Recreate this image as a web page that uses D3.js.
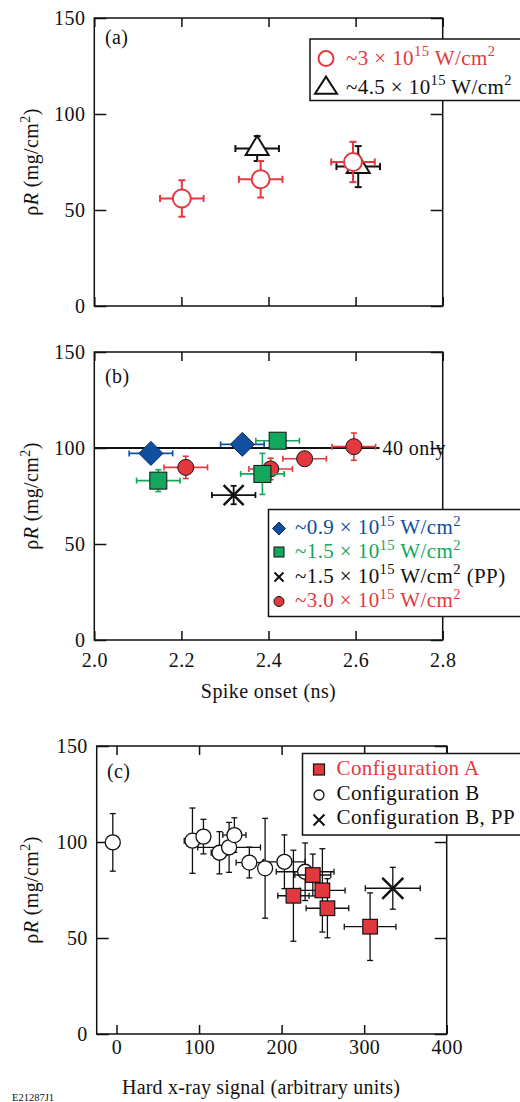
<!DOCTYPE html>
<html>
<head>
<meta charset="utf-8">
<script src="https://cdn.jsdelivr.net/npm/d3@7"></script>
<style>
  html, body { margin: 0; padding: 0; background: #fff; }
  svg { display: block; }
  svg text { font-family: "Liberation Serif", "Times New Roman", Times, serif; }
</style>
</head>
<body>
<svg id="chart" width="520" height="1102"></svg>
<script>
// ---------- Panel (a): areal density vs. spike onset ----------
const aLowOnset      = [2.201, 2.382, 2.594];
const aLowOnsetErr   = [0.05, 0.05, 0.05];
const aLowRhoR       = [56, 66, 75];
const aLowRhoRErr    = [9.5, 9.5, 10.5];

const aHighOnset     = [2.374, 2.606];
const aHighOnsetErr  = [0.05, 0.05];
const aHighRhoR      = [82, 72.6];
const aHighRhoRErr   = [6.5, 10.7];

// ---------- Panel (b): areal density vs. spike onset, four drive cases ----------
const b09Onset    = [2.130, 2.340];
const b09OnsetErr = [0.05, 0.05];
const b09RhoR     = [97.2, 101.9];
const b09RhoRErr  = [0, 0];

const b15Onset    = [2.147, 2.386, 2.421];
const b15OnsetErr = [0.05, 0.05, 0.05];
const b15RhoR     = [83.0, 86.5, 103.8];
const b15RhoRErr  = [5.7, 10.7, 0];

const b15ppOnset    = [2.320];
const b15ppOnsetErr = [0.05];
const b15ppRhoR     = [75.5];
const b15ppRhoRErr  = [4.8];

const b30Onset    = [2.210, 2.405, 2.483, 2.596];
const b30OnsetErr = [0.05, 0.05, 0.05, 0.05];
const b30RhoR     = [89.9, 89.1, 94.4, 100.7];
const b30RhoRErr  = [5.8, 5.6, 0, 7.1];

// reference level reached with 40 beams only
const refOnsetSpan = [2.0, 2.655];
const refRhoR      = 100;

// ---------- Panel (c): areal density vs. hard x-ray signal ----------
const cConfAHxr    = [237.8, 249.4, 255.5, 214.3, 307.2];
const cConfAHxrErr = [21.8, 27.5, 25.8, 19, 31.3];
const cConfARhoR   = [82.8, 74.8, 65.5, 72, 55.9];
const cConfARhoErr = [10.9, 21.7, 15.4, 23.7, 17.6];

const cConfBHxr    = [-4.5, 92, 105.3, 124.7, 136.4, 142.8, 160.9, 180, 203.4, 228.5];
const cConfBHxrErr = [0, 10, 0, 10, 38, 14, 16, 0, 25, 35];
const cConfBRhoR   = [99.8, 100.7, 102.8, 94.4, 97.2, 103.6, 89.3, 86.3, 89.7, 84.5];
const cConfBRhoErr = [15, 17, 9, 11, 13, 9, 8, 26, 14, 15];

const cConfBppHxr    = [334.7];
const cConfBppHxrErr = [33.3];
const cConfBppRhoR   = [75.9];
const cConfBppRhoErr = [10.9];

// ---------- axis ticks ----------
const rhoTicks   = [0, 50, 100, 150];
const onsetTicks = [2.0, 2.2, 2.4, 2.6, 2.8];
const hxrTicks   = [0, 100, 200, 300, 400];

const RED = "#e2393f", BLUE = "#0e4f9e", GREEN = "#13a65d", BLACK = "#111";
const FONT = "Liberation Serif, Times New Roman, serif";
const LS = 0.4; // slight tracking of the serif face

const svg = d3.select("#chart").attr("font-family", FONT);

// scales
const xOnsetA = d3.scaleLinear().domain([2.0, 2.8]).range([94.3, 442.7]);
const yA = d3.scaleLinear().domain([0, 150]).range([306, 18]);
const xOnsetB = d3.scaleLinear().domain([2.0, 2.8]).range([94.3, 442.7]);
const yB = d3.scaleLinear().domain([0, 150]).range([640, 352]);
const xHxr = d3.scaleLinear().domain([-24, 400]).range([96.7, 446.7]);
const yC = d3.scaleLinear().domain([0, 150]).range([1034, 746]);

function txt(x, y, s, size, color) {
  return svg.append("text").attr("x", x).attr("y", y).attr("font-size", size)
    .attr("font-family", FONT).attr("letter-spacing", LS).attr("fill", color || BLACK).text(s);
}

// frame with mirrored inward ticks on all four sides
function frame(sx, sy, xt, yt, xFmt, xPad) {
  const g = svg.append("g");
  const [x0, x1] = sx.range(), [y0, y1] = sy.range();
  g.append("g").attr("transform", `translate(0,${y0})`)
    .call(d3.axisBottom(sx).tickValues(xt).tickSizeInner(-9).tickSizeOuter(0).tickPadding(xPad)
      .tickFormat(xFmt || (() => "")));
  g.append("g").attr("transform", `translate(0,${y1})`)
    .call(d3.axisTop(sx).tickValues(xt).tickSizeInner(-9).tickSizeOuter(0).tickFormat(() => ""));
  g.append("g").attr("transform", `translate(${x0},0)`)
    .call(d3.axisLeft(sy).tickValues(yt).tickSizeInner(-12).tickSizeOuter(0).tickPadding(9).tickFormat(d => d));
  g.append("g").attr("transform", `translate(${x1},0)`)
    .call(d3.axisRight(sy).tickValues(yt).tickSizeInner(-12).tickSizeOuter(0).tickFormat(() => ""));
  g.selectAll(".domain").remove();
  g.selectAll("g").attr("font-family", FONT);
  g.selectAll(".tick line").attr("stroke", BLACK).attr("stroke-width", 1.5);
  g.selectAll(".tick text").attr("font-size", 20).attr("fill", BLACK)
    .attr("font-family", FONT).attr("letter-spacing", LS);
  g.append("rect").attr("x", x0).attr("y", y1).attr("width", x1 - x0).attr("height", y0 - y1)
    .attr("fill", "none").attr("stroke", BLACK).attr("stroke-width", 1.5);
  return g;
}

// text built from runs; a run with sup is raised and shrunk, the next run drops back
function runs(x, y, parts, size, color, attrs) {
  const t = svg.append("text").attr("x", x).attr("y", y).attr("font-size", size)
    .attr("font-family", FONT).attr("letter-spacing", LS).attr("fill", color || BLACK);
  if (attrs) Object.entries(attrs).forEach(([k, v]) => t.attr(k, v));
  const up = size * 0.4;
  let pending = 0;
  parts.forEach(p => {
    const sp = t.append("tspan");
    if (p.sup) {
      sp.attr("font-size", size * 0.7).attr("dy", pending - up).text(p.sup);
      pending = up;
    } else {
      if (pending) sp.attr("dy", pending);
      pending = 0;
      if (p.italic) sp.attr("font-style", "italic");
      sp.text(p.t);
    }
  });
  return t;
}

function rhoLabel(cx, cy) {
  runs(0, 0, [{ t: "\u03C1" }, { t: "R", italic: true }, { t: " (mg/cm" }, { sup: "2" }, { t: ")" }],
    20, BLACK, { transform: `translate(${cx},${cy}) rotate(-90)`, "text-anchor": "middle", x: null, y: null });
}

function intensityText(x, y, mant, suffix, color) {
  const parts = [{ t: "~" + mant + " \u00D7 10" }, { sup: "15" }, { t: " W/cm" }, { sup: "2" }];
  if (suffix) parts.push({ t: suffix });
  return runs(x, y, parts, 21, color);
}

function errorBars(g, sx, sy, xs, xe, ys, ye, color, width, cap) {
  const eg = g.append("g").attr("stroke", color).attr("stroke-width", width).attr("fill", "none");
  xs.forEach((x, i) => {
    const cx = sx(x), cy = sy(ys[i]);
    if (xe[i] > 0) {
      const l = sx(x - xe[i]), r = sx(x + xe[i]);
      eg.append("line").attr("x1", l).attr("x2", r).attr("y1", cy).attr("y2", cy);
      [l, r].forEach(px => eg.append("line").attr("x1", px).attr("x2", px)
        .attr("y1", cy - cap).attr("y2", cy + cap));
    }
    if (ye[i] > 0) {
      const t = sy(ys[i] + ye[i]), b = sy(ys[i] - ye[i]);
      eg.append("line").attr("x1", cx).attr("x2", cx).attr("y1", t).attr("y2", b);
      [t, b].forEach(py => eg.append("line").attr("x1", cx - cap).attr("x2", cx + cap)
        .attr("y1", py).attr("y2", py));
    }
  });
}

const diamondPath = s => `M0,${-s}L${s},0L0,${s}L${-s},0Z`;
const trianglePath = (w, h) => `M0,${-2 * h / 3}L${w / 2},${h / 3}L${-w / 2},${h / 3}Z`;
const crossPath = s => `M${-s},${-s}L${s},${s}M${-s},${s}L${s},${-s}`;

function markers(g, sx, sy, xs, ys, draw) {
  g.append("g").selectAll("g").data(xs.map((x, i) => [x, ys[i]])).join("g")
    .attr("transform", d => `translate(${sx(d[0])},${sy(d[1])})`)
    .each(function () { draw(d3.select(this)); });
}

// ================= Panel (a) =================
frame(xOnsetA, yA, onsetTicks, rhoTicks, null, 0);
rhoLabel(38, 162);
txt(105, 44, "(a)", 20);

const gA = svg.append("g");
errorBars(gA, xOnsetA, yA, aHighOnset, aHighOnsetErr, aHighRhoR, aHighRhoRErr, BLACK, 2, 3.5);
markers(gA, xOnsetA, yA, aHighOnset, aHighRhoR, s => s.append("path")
  .attr("d", trianglePath(23, 19)).attr("fill", "#fff").attr("stroke", BLACK).attr("stroke-width", 2));
errorBars(gA, xOnsetA, yA, aLowOnset, aLowOnsetErr, aLowRhoR, aLowRhoRErr, RED, 2, 3.5);
markers(gA, xOnsetA, yA, aLowOnset, aLowRhoR, s => s.append("circle")
  .attr("r", 9).attr("fill", "#fff").attr("stroke", RED).attr("stroke-width", 2));

// legend (a)
svg.append("rect").attr("x", 310).attr("y", 39).attr("width", 215).attr("height", 61.5)
  .attr("fill", "#fff").attr("stroke", BLACK).attr("stroke-width", 1.5);
svg.append("circle").attr("cx", 326).attr("cy", 58.5).attr("r", 7.5)
  .attr("fill", "#fff").attr("stroke", RED).attr("stroke-width", 2);
svg.append("path").attr("transform", "translate(326,88)").attr("d", trianglePath(22, 17))
  .attr("fill", "#fff").attr("stroke", BLACK).attr("stroke-width", 2);
intensityText(346, 64.5, "3", "", RED);
intensityText(346, 93.5, "4.5", "", BLACK);

// ================= Panel (b) =================
frame(xOnsetB, yB, onsetTicks, rhoTicks, d3.format(".1f"), 13);
rhoLabel(38, 496);
txt(105, 383, "(b)", 20);
txt(268.5, 698, "Spike onset (ns)", 20).attr("text-anchor", "middle");

const gB = svg.append("g");
gB.append("line").attr("x1", xOnsetB(refOnsetSpan[0])).attr("x2", xOnsetB(refOnsetSpan[1]))
  .attr("y1", yB(refRhoR)).attr("y2", yB(refRhoR)).attr("stroke", BLACK).attr("stroke-width", 2);
txt(xOnsetB(refOnsetSpan[1]) + 3, yB(refRhoR) + 7, "40 only", 20);

errorBars(gB, xOnsetB, yB, b30Onset, b30OnsetErr, b30RhoR, b30RhoRErr, RED, 1.6, 3);
markers(gB, xOnsetB, yB, b30Onset, b30RhoR, s => s.append("circle")
  .attr("r", 8).attr("fill", RED).attr("stroke", BLACK).attr("stroke-width", 1));
errorBars(gB, xOnsetB, yB, b15Onset, b15OnsetErr, b15RhoR, b15RhoRErr, GREEN, 1.6, 3);
markers(gB, xOnsetB, yB, b15Onset, b15RhoR, s => s.append("rect")
  .attr("x", -8.5).attr("y", -8.5).attr("width", 17).attr("height", 17)
  .attr("fill", GREEN).attr("stroke", BLACK).attr("stroke-width", 1));
errorBars(gB, xOnsetB, yB, b09Onset, b09OnsetErr, b09RhoR, b09RhoRErr, BLUE, 1.6, 3);
markers(gB, xOnsetB, yB, b09Onset, b09RhoR, s => s.append("path")
  .attr("d", diamondPath(12)).attr("fill", BLUE).attr("stroke", "#0a2a55").attr("stroke-width", 1));
errorBars(gB, xOnsetB, yB, b15ppOnset, b15ppOnsetErr, b15ppRhoR, b15ppRhoRErr, BLACK, 1.8, 3);
markers(gB, xOnsetB, yB, b15ppOnset, b15ppRhoR, s => s.append("path")
  .attr("d", crossPath(10)).attr("fill", "none").attr("stroke", BLACK).attr("stroke-width", 2.5));

// legend (b)
svg.append("rect").attr("x", 268.5).attr("y", 509.5).attr("width", 260).attr("height", 107)
  .attr("fill", "#fff").attr("stroke", BLACK).attr("stroke-width", 1.5);
svg.append("path").attr("transform", "translate(279,528.5)").attr("d", diamondPath(6.5))
  .attr("fill", BLUE).attr("stroke", "#0a2a55").attr("stroke-width", 1);
svg.append("rect").attr("x", 274).attr("y", 547).attr("width", 10).attr("height", 10)
  .attr("fill", GREEN).attr("stroke", BLACK).attr("stroke-width", 1);
svg.append("path").attr("transform", "translate(279,577)").attr("d", crossPath(4.5))
  .attr("fill", "none").attr("stroke", BLACK).attr("stroke-width", 2);
svg.append("circle").attr("cx", 279).attr("cy", 601.5).attr("r", 5)
  .attr("fill", RED).attr("stroke", BLACK).attr("stroke-width", 1);
intensityText(295, 534, "0.9", "", BLUE);
intensityText(295, 558, "1.5", "", GREEN);
intensityText(295, 582.5, "1.5", " (PP)", BLACK);
intensityText(295, 607, "3.0", "", RED);

// ================= Panel (c) =================
frame(xHxr, yC, hxrTicks, rhoTicks, d => d, 5.5);
rhoLabel(38, 890);
txt(107, 778, "(c)", 20);
txt(261, 1094, "Hard x-ray signal (arbitrary units)", 20).attr("text-anchor", "middle").attr("letter-spacing", 0.2);
txt(12, 1101, "E21287J1", 10.5).attr("letter-spacing", 0);

const gC = svg.append("g");
errorBars(gC, xHxr, yC, cConfBHxr, cConfBHxrErr, cConfBRhoR, cConfBRhoErr, BLACK, 1.3, 3);
markers(gC, xHxr, yC, cConfBHxr, cConfBRhoR, s => s.append("circle")
  .attr("r", 7.5).attr("fill", "#fff").attr("stroke", BLACK).attr("stroke-width", 1.3));
errorBars(gC, xHxr, yC, cConfAHxr, cConfAHxrErr, cConfARhoR, cConfARhoErr, BLACK, 1.3, 3);
markers(gC, xHxr, yC, cConfAHxr, cConfARhoR, s => s.append("rect")
  .attr("x", -7.3).attr("y", -7.3).attr("width", 14.6).attr("height", 14.6)
  .attr("fill", RED).attr("stroke", BLACK).attr("stroke-width", 1.2));
errorBars(gC, xHxr, yC, cConfBppHxr, cConfBppHxrErr, cConfBppRhoR, cConfBppRhoErr, BLACK, 1.3, 3);
markers(gC, xHxr, yC, cConfBppHxr, cConfBppRhoR, s => s.append("path")
  .attr("d", crossPath(10.5)).attr("fill", "none").attr("stroke", BLACK).attr("stroke-width", 2.5));

// legend (c)
svg.append("rect").attr("x", 302.5).attr("y", 753.5).attr("width", 225).attr("height", 81.5)
  .attr("fill", "#fff").attr("stroke", BLACK).attr("stroke-width", 1.5);
svg.append("rect").attr("x", 313.5).attr("y", 764).attr("width", 11).attr("height", 11)
  .attr("fill", RED).attr("stroke", BLACK).attr("stroke-width", 1.2);
svg.append("circle").attr("cx", 319).attr("cy", 795).attr("r", 5)
  .attr("fill", "#fff").attr("stroke", BLACK).attr("stroke-width", 1.3);
svg.append("path").attr("transform", "translate(319,820)").attr("d", crossPath(5.5))
  .attr("fill", "none").attr("stroke", BLACK).attr("stroke-width", 2);
txt(336.5, 774.5, "Configuration A", 21, RED);
txt(336.5, 799.5, "Configuration B", 21);
txt(336.5, 824, "Configuration B, PP", 21);
</script>
</body>
</html>
